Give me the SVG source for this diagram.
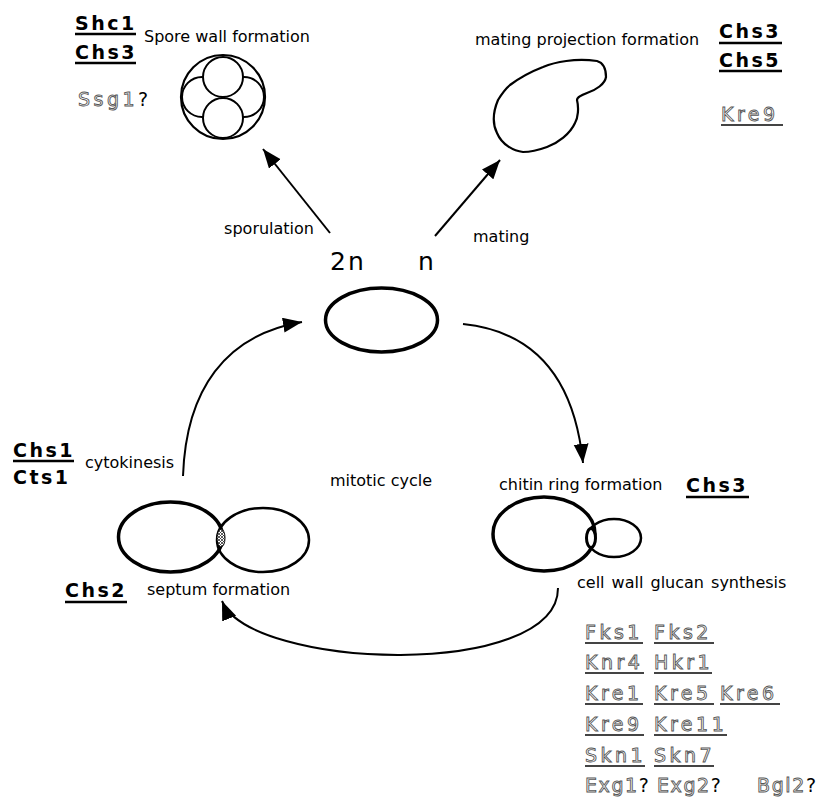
<svg xmlns="http://www.w3.org/2000/svg" width="831" height="805" viewBox="0 0 831 805">
  <style>
    .lbl { font-family: "DejaVu Sans", Verdana, sans-serif; font-size: 16px; fill: #000; }
    .gene { font-family: "DejaVu Sans", Verdana, sans-serif; font-size: 19px; font-weight: bold; letter-spacing: 2.5px; fill: #000; }
    .ogene { font-family: "DejaVu Sans", Verdana, sans-serif; font-size: 19px; letter-spacing: 3.5px; fill: none; stroke: #555; stroke-width: 0.9; }
    .ogene.tight { letter-spacing: 1.6px; }
    .q { fill: #000; stroke: none; letter-spacing: 0; }
    .ploidy { font-family: "DejaVu Sans", Verdana, sans-serif; font-size: 25px; letter-spacing: 2px; fill: #000; }
    .ul { stroke: #000; stroke-width: 2.5; }
    .oul { stroke: #444; stroke-width: 2; }
    .cell { fill: none; stroke: #000; }
    .conn { fill: none; stroke: #000; stroke-width: 2; }
    .gray { opacity: 0.99; }
  </style>
  <defs>
    <marker id="head" markerUnits="userSpaceOnUse" markerWidth="20" markerHeight="16" refX="19" refY="7.5" orient="auto">
      <path d="M0,0 L19,7.5 L0,15 Z" fill="#000"/>
    </marker>
    <pattern id="hatch" width="3" height="3" patternUnits="userSpaceOnUse">
      <rect width="3" height="3" fill="#fff"/>
      <path d="M0,0 L3,3 M3,0 L0,3" stroke="#333" stroke-width="0.8"/>
    </pattern>
  </defs>

  <!-- spore (tetrad) -->
  <g id="spore">
    <circle cx="223" cy="97" r="42" class="cell" stroke-width="2.2"/>
    <circle cx="202" cy="97" r="20" fill="#fff" stroke="#000" stroke-width="2"/>
    <circle cx="244" cy="97" r="20" fill="#fff" stroke="#000" stroke-width="2"/>
    <circle cx="223" cy="77" r="20" fill="#fff" stroke="#000" stroke-width="2"/>
    <circle cx="223" cy="118" r="20" fill="#fff" stroke="#000" stroke-width="2"/>
    <text x="75" y="30" class="gene">Shc1</text>
    <line x1="75" y1="34" x2="136" y2="34" class="ul"/>
    <text x="75" y="59" class="gene">Chs3</text>
    <line x1="75" y1="63" x2="136" y2="63" class="ul"/>
    <text x="144" y="42" class="lbl" font-size="15.5">Spore wall formation</text>
    <g class="gray"><text x="78" y="106" class="ogene">Ssg1<tspan class="q">?</tspan></text></g>
  </g>

  <!-- shmoo (mating projection) -->
  <g id="shmoo">
    <path d="M510,85 C518,79 530,72 543,67 C555,62 575,58 597,61 C604,63 606,70 606,77 C605,84 596,90 587,93 C582,95 577,97 577,100 C579,108 578,118 575,123 C570,134 558,143 547,147 C536,151 530,152 523,152 C514,151 502,145 497,133 C492,123 493,112 498,100 C501,95 505,89 510,85 Z" class="cell" stroke-width="2.2" stroke-linejoin="round"/>
    <text x="475" y="45" class="lbl">mating projection formation</text>
    <text x="719" y="38" class="gene">Chs3</text>
    <line x1="719" y1="43" x2="782" y2="43" class="ul"/>
    <text x="719" y="67" class="gene">Chs5</text>
    <line x1="719" y1="71" x2="782" y2="71" class="ul"/>
    <g class="gray"><text x="721" y="121" class="ogene">Kre9</text></g>
    <line x1="721" y1="125" x2="783" y2="125" class="oul"/>
  </g>

  <!-- central cell -->
  <g id="cell-center">
    <ellipse cx="381.5" cy="320" rx="56" ry="32" class="cell" stroke-width="3.5"/>
    <text x="330" y="270" class="ploidy">2n</text>
    <text x="418" y="270" class="ploidy">n</text>
  </g>

  <!-- budded cell, septum stage -->
  <g id="cell-septum">
    <ellipse cx="263" cy="540" rx="46" ry="32" class="cell" stroke-width="2.5"/>
    <ellipse cx="170.5" cy="537" rx="52" ry="35" class="cell" stroke-width="3.5"/>
    <ellipse cx="221" cy="538" rx="4" ry="9" fill="url(#hatch)" stroke="#000" stroke-width="1"/>
    <text x="13" y="457" class="gene">Chs1</text>
    <line x1="13" y1="461" x2="74" y2="461" class="ul"/>
    <text x="13" y="484" class="gene">Cts1</text>
    <text x="85" y="468" class="lbl">cytokinesis</text>
    <text x="65" y="597" class="gene">Chs2</text>
    <line x1="65" y1="602" x2="127" y2="602" class="ul"/>
    <text x="147" y="595" class="lbl">septum formation</text>
  </g>

  <!-- budding cell, chitin ring stage -->
  <g id="cell-bud">
    <ellipse cx="544" cy="534" rx="51" ry="37" class="cell" stroke-width="3.5"/>
    <ellipse cx="614" cy="538" rx="27" ry="19" class="cell" stroke-width="2.5"/>
    <ellipse cx="591" cy="538" rx="4.5" ry="9.5" fill="#fff" stroke="#000" stroke-width="3"/>
    <text x="499" y="490" class="lbl">chitin ring formation</text>
    <text x="686" y="492" class="gene">Chs3</text>
    <line x1="686" y1="497" x2="749" y2="497" class="ul"/>
    <text x="577" y="588" class="lbl" word-spacing="2">cell wall glucan synthesis</text>
  </g>

  <!-- glucan synthesis genes -->
  <g id="glucan-genes">
    <g class="gray">
      <text x="585" y="639" class="ogene">Fks1</text>
      <text x="654" y="639" class="ogene">Fks2</text>
      <text x="585" y="669" class="ogene">Knr4</text>
      <text x="654" y="669" class="ogene">Hkr1</text>
      <text x="585" y="700" class="ogene">Kre1</text>
      <text x="654" y="700" class="ogene">Kre5</text>
      <text x="720" y="700" class="ogene">Kre6</text>
      <text x="585" y="731" class="ogene">Kre9</text>
      <text x="654" y="731" class="ogene">Kre11</text>
      <text x="585" y="762" class="ogene">Skn1</text>
      <text x="654" y="762" class="ogene">Skn7</text>
      <text x="585" y="792" class="ogene tight">Exg1<tspan class="q">?</tspan></text>
      <text x="657" y="792" class="ogene tight">Exg2<tspan class="q">?</tspan></text>
      <text x="757" y="792" class="ogene tight">Bgl2<tspan class="q">?</tspan></text>
    </g>
    <line x1="585" y1="643" x2="643" y2="643" class="oul"/>
    <line x1="654" y1="643" x2="714" y2="643" class="oul"/>
    <line x1="585" y1="673" x2="644" y2="673" class="oul"/>
    <line x1="654" y1="673" x2="712" y2="673" class="oul"/>
    <line x1="585" y1="704" x2="643" y2="704" class="oul"/>
    <line x1="654" y1="704" x2="714" y2="704" class="oul"/>
    <line x1="720" y1="704" x2="780" y2="704" class="oul"/>
    <line x1="585" y1="735" x2="644" y2="735" class="oul"/>
    <line x1="654" y1="735" x2="727" y2="735" class="oul"/>
    <line x1="585" y1="766" x2="645" y2="766" class="oul"/>
    <line x1="654" y1="766" x2="714" y2="766" class="oul"/>
  </g>

  <!-- free labels -->
  <g id="labels">
    <text x="314" y="234" class="lbl" text-anchor="end">sporulation</text>
    <text x="473" y="242" class="lbl">mating</text>
    <text x="330" y="486" class="lbl" font-size="18">mitotic cycle</text>
  </g>

  <!-- connectors -->
  <g id="connectors">
    <line x1="330" y1="233" x2="263" y2="149" class="conn" marker-end="url(#head)"/>
    <line x1="435" y1="236" x2="500" y2="160" class="conn" marker-end="url(#head)"/>
    <path d="M463,324 Q570,335 583,463" class="conn" marker-end="url(#head)"/>
    <path d="M558,588 C558,680 250,670 222,601" class="conn" marker-end="url(#head)"/>
    <path d="M183,476 C186,390 225,335 302,322" class="conn" marker-end="url(#head)"/>
  </g>
</svg>
